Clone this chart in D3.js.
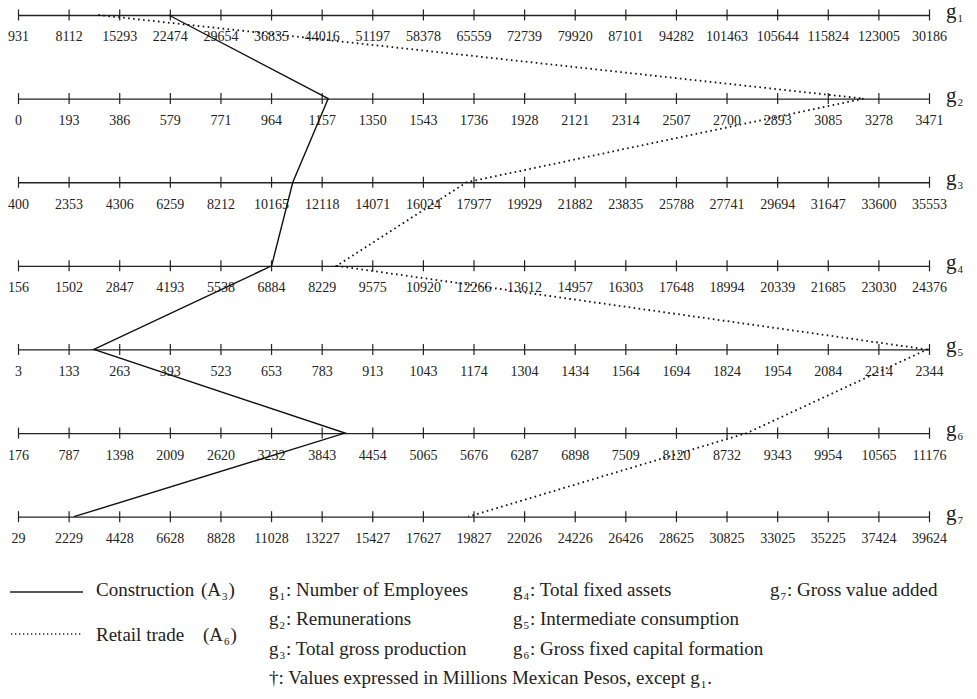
<!DOCTYPE html>
<html>
<head>
<meta charset="utf-8">
<script src="https://cdn.jsdelivr.net/npm/d3@7"></script>
<style>
  body { margin: 0; background: #fff; }
  svg { display: block; font-family: "Liberation Serif", "Times New Roman", serif; }
</style>
</head>
<body>
<svg id="chart" width="977" height="699"></svg>
<script>
// ── Data ────────────────────────────────────────────────────────────────────
const axisNames = ['g1', 'g2', 'g3', 'g4', 'g5', 'g6', 'g7'];

const g1Ticks = ['931','8112','15293','22474','29654','36835','44016','51197','58378','65559','72739','79920','87101','94282','101463','105644','115824','123005','30186'];
const g2Ticks = ['0','193','386','579','771','964','1157','1350','1543','1736','1928','2121','2314','2507','2700','2893','3085','3278','3471'];
const g3Ticks = ['400','2353','4306','6259','8212','10165','12118','14071','16024','17977','19929','21882','23835','25788','27741','29694','31647','33600','35553'];
const g4Ticks = ['156','1502','2847','4193','5538','6884','8229','9575','10920','12266','13612','14957','16303','17648','18994','20339','21685','23030','24376'];
const g5Ticks = ['3','133','263','393','523','653','783','913','1043','1174','1304','1434','1564','1694','1824','1954','2084','2214','2344'];
const g6Ticks = ['176','787','1398','2009','2620','3232','3843','4454','5065','5676','6287','6898','7509','8120','8732','9343','9954','10565','11176'];
const g7Ticks = ['29','2229','4428','6628','8828','11028','13227','15427','17627','19827','22026','24226','26426','28625','30825','33025','35225','37424','39624'];
const tickLabels = [g1Ticks, g2Ticks, g3Ticks, g4Ticks, g5Ticks, g6Ticks, g7Ticks];

// min / max of each axis (g1's last label is printed truncated)
const axisMin = [931, 0, 400, 156, 3, 176, 29];
const axisMax = [130186, 3471, 35553, 24376, 2344, 11176, 39624];

// values per axis, g1..g7
const construction = [22300, 1182, 11004, 6898, 198, 4124, 2462];
const retail       = [12327, 3222, 17714, 8629, 2339, 8976, 19600];

const legendVars = [
  ['1', 'Number of Employees'],
  ['2', 'Remunerations'],
  ['3', 'Total gross production'],
  ['4', 'Total fixed assets'],
  ['5', 'Intermediate consumption'],
  ['6', 'Gross fixed capital formation'],
  ['7', 'Gross value added'],
];

// ── Layout ──────────────────────────────────────────────────────────────────
const svg = d3.select('#chart');
svg.append('rect').attr('width', 977).attr('height', 699).attr('fill', '#fff');

const x0 = 18, x1 = 929;
const y = d3.scalePoint().domain(axisNames).range([15, 516.7]);

const xScales = axisNames.map((n, i) =>
  d3.scaleLinear().domain([axisMin[i], axisMax[i]]).range([x0, x1]));

// ── Axes ────────────────────────────────────────────────────────────────────
axisNames.forEach((name, i) => {
  const sc = xScales[i];
  const lo = axisMin[i], hi = axisMax[i];
  const vals = d3.range(19).map(k => lo + k * (hi - lo) / 18);
  const axis = d3.axisBottom(sc)
    .tickValues(vals)
    .tickSizeInner(5.5)
    .tickSizeOuter(0)
    .tickPadding(11)
    .tickFormat((d, k) => tickLabels[i][k]);

  const g = svg.append('g')
    .attr('transform', `translate(0,${y(name)})`)
    .call(axis);
  g.select('.domain').attr('stroke', '#222').attr('stroke-width', 1.3);
  g.selectAll('.tick line').attr('y1', -5.5).attr('y2', 5.5)
    .attr('stroke', '#222').attr('stroke-width', 1.2);
  g.selectAll('.tick text')
    .attr('font-family', '"Liberation Serif", serif')
    .attr('font-size', 14)
    .attr('fill', '#222');

  // g_i label on the right
  const lab = svg.append('text')
    .attr('x', 946).attr('y', y(name) + 3)
    .attr('font-size', 21).attr('fill', '#222');
  lab.append('tspan').text('g');
  lab.append('tspan').attr('font-size', 11).attr('dy', 4).attr('dx', 1).text(name.slice(1));
});

// ── Lines ───────────────────────────────────────────────────────────────────
const line = d3.line()
  .x((d, i) => xScales[i](d))
  .y((d, i) => y(axisNames[i]));

svg.append('path')
  .datum(construction)
  .attr('d', line)
  .attr('fill', 'none')
  .attr('stroke', '#111')
  .attr('stroke-width', 1.4);

svg.append('path')
  .datum(retail)
  .attr('d', line)
  .attr('fill', 'none')
  .attr('stroke', '#111')
  .attr('stroke-width', 1.8)
  .attr('stroke-dasharray', '1.6,3.4');

// ── Legend ──────────────────────────────────────────────────────────────────
const leg = svg.append('g').attr('font-size', 19).attr('fill', '#222');

leg.append('line').attr('x1', 10).attr('x2', 83).attr('y1', 592).attr('y2', 592)
  .attr('stroke', '#222').attr('stroke-width', 1.4);
leg.append('line').attr('x1', 11).attr('x2', 83).attr('y1', 634).attr('y2', 634)
  .attr('stroke', '#222').attr('stroke-width', 1.5).attr('stroke-dasharray', '1.3,2.7');

function subText(x, yy, pre, sub, post) {
  const t = leg.append('text').attr('x', x).attr('y', yy);
  t.append('tspan').text(pre);
  t.append('tspan').attr('font-size', 11).attr('dy', 4).attr('dx', 1).text(sub);
  t.append('tspan').attr('dy', -4).attr('dx', 1).text(post);
  return t;
}

leg.append('text').attr('x', 96).attr('y', 596).text('Construction');
subText(201, 596, '(A', '3', ')');
leg.append('text').attr('x', 96).attr('y', 641).text('Retail trade');
subText(203, 641, '(A', '6', ')');

const colX = [269, 269, 269, 513, 513, 513, 770];
const rowY = [596, 625, 655, 596, 625, 655, 596];
legendVars.forEach((d, i) => {
  subText(colX[i], rowY[i], 'g', d[0], ': ' + d[1]);
});

subText(269, 684, '\u2020: Values expressed in Millions Mexican Pesos, except g', '1', '.');
</script>
</body>
</html>
